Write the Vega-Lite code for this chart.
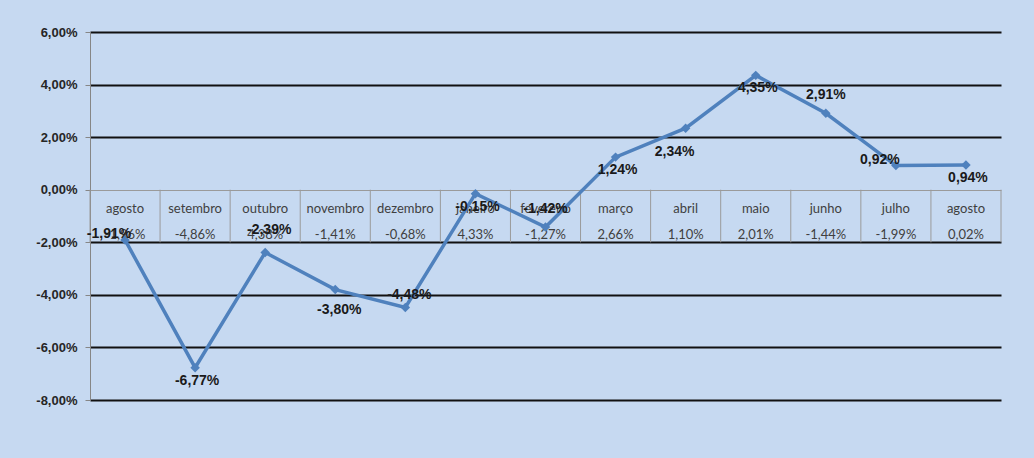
{
  "$schema": "https://vega.github.io/schema/vega-lite/v6.json",
  "width": 911,
  "height": 368,
  "autosize": {"type": "none"},
  "padding": {"left": 90, "top": 32, "right": 33, "bottom": 58},
  "background": "#c6d9f1",
  "config": {
    "view": {"stroke": null},
    "locale": {"number": {"decimal": ",", "thousands": ".", "grouping": [3], "currency": ["R$", ""], "minus": "-"}}
  },
  "data": {
    "values": [
      {"i": 1, "mes": "agosto", "var": -0.0191, "tab": -0.0196},
      {"i": 2, "mes": "setembro", "var": -0.0677, "tab": -0.0486},
      {"i": 3, "mes": "outubro", "var": -0.0239, "tab": 0.0438},
      {"i": 4, "mes": "novembro", "var": -0.0380, "tab": -0.0141},
      {"i": 5, "mes": "dezembro", "var": -0.0448, "tab": -0.0068},
      {"i": 6, "mes": "janeiro", "var": -0.0015, "tab": 0.0433},
      {"i": 7, "mes": "fevereiro", "var": -0.0142, "tab": -0.0127},
      {"i": 8, "mes": "março", "var": 0.0124, "tab": 0.0266},
      {"i": 9, "mes": "abril", "var": 0.0234, "tab": 0.0110},
      {"i": 10, "mes": "maio", "var": 0.0435, "tab": 0.0201},
      {"i": 11, "mes": "junho", "var": 0.0291, "tab": -0.0144},
      {"i": 12, "mes": "julho", "var": 0.0092, "tab": -0.0199},
      {"i": 13, "mes": "agosto", "var": 0.0094, "tab": 0.0002}
    ]
  },
  "encoding": {
    "x": {"field": "i", "type": "ordinal", "scale": {"paddingInner": 0, "paddingOuter": 0}, "axis": null}
  },
  "layer": [
    {
      "mark": {"type": "rule", "color": "#9a9a9a", "strokeWidth": 1},
      "encoding": {
        "x": {"field": "i", "type": "ordinal", "bandPosition": 0},
        "y": {"datum": 0, "type": "quantitative",
          "scale": {"domain": [-0.08, 0.06], "nice": false, "zero": false},
          "axis": {
            "values": [-0.08, -0.06, -0.04, -0.02, 0, 0.02, 0.04, 0.06],
            "format": ".2%",
            "title": null,
            "grid": true,
            "gridColor": {"condition": {"test": "datum.value === 0", "value": "#9a9a9a"}, "value": "#111111"},
            "gridWidth": {"condition": {"test": "datum.value === 0", "value": 1}, "value": 2},
            "domainColor": "#868686",
            "domainWidth": 1,
            "tickColor": "#868686",
            "tickSize": 5,
            "labelPadding": 8,
            "labelFont": "Liberation Sans",
            "labelFontSize": 13,
            "labelFontWeight": "bold",
            "labelColor": "#262626"
          }
        },
        "y2": {"datum": -0.02}
      }
    },
    {
      "transform": [{"filter": "datum.i === 13"}],
      "mark": {"type": "rule", "color": "#9a9a9a", "strokeWidth": 1},
      "encoding": {
        "x": {"field": "i", "type": "ordinal", "bandPosition": 1},
        "y": {"datum": 0, "type": "quantitative"},
        "y2": {"datum": -0.02}
      }
    },
    {
      "mark": {"type": "text", "font": "Lato", "fontSize": 13, "color": "#404040", "dy": 19, "baseline": "middle"},
      "encoding": {
        "y": {"datum": 0, "type": "quantitative"},
        "text": {"field": "mes"}
      }
    },
    {
      "mark": {"type": "text", "font": "Lato", "fontSize": 13, "color": "#404040", "dy": 45, "baseline": "middle"},
      "encoding": {
        "y": {"datum": 0, "type": "quantitative"},
        "text": {"field": "tab", "format": ".2%"}
      }
    },
    {
      "mark": {"type": "line", "color": "#4f81bd", "strokeWidth": 3.5},
      "encoding": {"y": {"field": "var", "type": "quantitative"}}
    },
    {
      "mark": {"type": "point", "shape": "diamond", "filled": true, "color": "#4f81bd", "opacity": 1, "size": 90},
      "encoding": {"y": {"field": "var", "type": "quantitative"}}
    },
    {
      "transform": [{"filter": "indexof([7,11], datum.i) >= 0"}],
      "mark": {"type": "text", "font": "Liberation Sans", "fontSize": 14, "fontWeight": "bold", "color": "#1a1a1a", "dy": -18, "baseline": "middle"},
      "encoding": {"y": {"field": "var", "type": "quantitative"}, "text": {"field": "var", "format": ".2%"}}
    },
    {
      "transform": [{"filter": "datum.i === 5"}],
      "mark": {"type": "text", "font": "Liberation Sans", "fontSize": 14, "fontWeight": "bold", "color": "#1a1a1a", "dy": -12, "dx": 4, "baseline": "middle"},
      "encoding": {"y": {"field": "var", "type": "quantitative"}, "text": {"field": "var", "format": ".2%"}}
    },
    {
      "transform": [{"filter": "datum.i === 3"}],
      "mark": {"type": "text", "font": "Liberation Sans", "fontSize": 14, "fontWeight": "bold", "color": "#1a1a1a", "dy": -23, "dx": 4, "baseline": "middle"},
      "encoding": {"y": {"field": "var", "type": "quantitative"}, "text": {"field": "var", "format": ".2%"}}
    },
    {
      "transform": [{"filter": "indexof([2,6,8,10,13], datum.i) >= 0"}],
      "mark": {"type": "text", "font": "Liberation Sans", "fontSize": 14, "fontWeight": "bold", "color": "#1a1a1a", "dy": 13, "dx": 2, "baseline": "middle"},
      "encoding": {"y": {"field": "var", "type": "quantitative"}, "text": {"field": "var", "format": ".2%"}}
    },
    {
      "transform": [{"filter": "datum.i === 4"}],
      "mark": {"type": "text", "font": "Liberation Sans", "fontSize": 14, "fontWeight": "bold", "color": "#1a1a1a", "dy": 20, "dx": 4, "baseline": "middle"},
      "encoding": {"y": {"field": "var", "type": "quantitative"}, "text": {"field": "var", "format": ".2%"}}
    },
    {
      "transform": [{"filter": "datum.i === 9"}],
      "mark": {"type": "text", "font": "Liberation Sans", "fontSize": 14, "fontWeight": "bold", "color": "#1a1a1a", "dy": 24, "dx": -11, "baseline": "middle"},
      "encoding": {"y": {"field": "var", "type": "quantitative"}, "text": {"field": "var", "format": ".2%"}}
    },
    {
      "transform": [{"filter": "datum.i === 1 || datum.i === 12"}],
      "mark": {"type": "text", "font": "Liberation Sans", "fontSize": 14, "fontWeight": "bold", "color": "#1a1a1a", "dy": -6, "dx": -16, "baseline": "middle"},
      "encoding": {"y": {"field": "var", "type": "quantitative"}, "text": {"field": "var", "format": ".2%"}}
    }
  ]
}
